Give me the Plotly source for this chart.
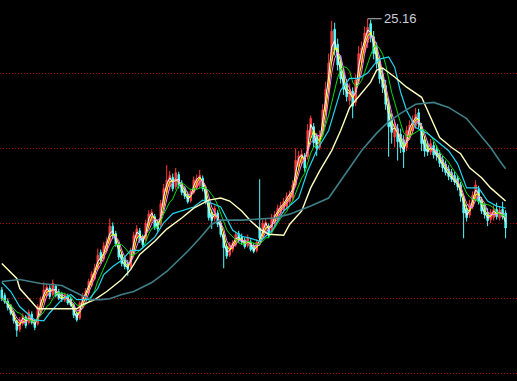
import plotly.graph_objects as go
import pandas as pd

# ---- data ----
opens = [10.70,10.40,10.10,9.85,9.50,9.05,8.60,8.90,9.25,8.95,9.40,9.05,8.90,9.70,10.10,10.40,10.80,10.45,10.90,10.60,
         10.50,10.15,10.40,10.20,9.90,9.45,9.20,9.95,10.25,10.55,10.95,11.30,11.85,12.70,12.35,12.80,13.25,14.10,13.70,13.10,
         12.60,12.30,12.15,11.95,12.85,13.45,13.85,13.50,13.40,14.15,14.40,14.60,14.30,14.20,15.20,15.90,16.20,16.70,16.20,16.85,
         16.40,16.05,15.80,15.45,15.90,16.20,16.25,16.65,16.05,15.35,14.85,14.50,14.80,14.25,13.65,13.00,12.55,12.85,13.10,13.70,
         13.55,13.35,13.05,13.25,13.05,12.80,14.00,13.55,13.90,14.10,13.80,14.25,14.50,14.80,14.95,15.15,15.40,15.60,16.30,17.30,
         17.45,17.85,17.80,19.00,19.40,18.90,18.30,19.00,20.20,21.40,22.90,24.60,23.80,22.90,22.20,21.70,20.80,21.30,20.70,21.90,
         22.80,23.50,23.90,24.90,24.20,23.60,22.90,22.20,21.60,20.60,19.80,18.85,19.30,19.00,18.70,18.30,18.90,19.20,19.45,20.15,
         19.40,18.70,18.40,18.05,18.40,18.20,17.95,17.65,17.40,17.15,16.95,16.80,16.65,16.30,15.60,15.05,14.70,15.15,15.60,16.05,
         15.45,15.10,14.85,14.45,14.55,15.00,14.55,15.00,14.80]
highs = [10.85,10.55,10.25,9.95,9.60,9.10,9.25,9.45,9.35,9.65,9.55,9.15,9.95,10.35,11.10,11.00,10.95,11.25,11.00,10.75,
         10.60,10.55,10.50,10.35,10.00,9.55,10.10,10.55,10.80,11.30,11.70,12.10,12.90,12.85,13.25,13.50,14.50,14.30,13.85,13.25,
         12.75,12.45,12.30,12.95,13.80,14.15,14.00,13.65,14.45,14.95,15.00,14.75,14.45,15.50,16.35,17.35,17.05,16.90,17.20,17.00,
         16.55,16.20,15.95,16.10,16.75,16.85,17.10,16.80,16.20,15.50,15.00,15.20,14.95,14.40,13.80,13.15,13.25,13.35,13.80,13.85,
         13.70,13.50,13.65,13.40,13.20,13.40,16.60,14.45,14.50,14.25,14.75,14.90,15.25,15.40,15.60,15.90,16.00,16.55,18.25,18.10,
         18.20,18.00,19.55,20.00,19.60,19.05,19.20,20.60,21.80,23.30,25.05,24.95,24.10,23.20,22.50,21.95,21.70,21.50,22.20,23.70,
         23.95,24.75,25.16,25.10,24.50,23.90,23.20,22.50,21.90,20.90,20.10,19.80,19.55,19.30,18.95,19.45,19.75,20.00,20.40,20.35,
         19.60,18.90,18.65,18.75,18.60,18.40,18.15,17.85,17.60,17.35,17.15,17.00,16.80,16.45,15.75,15.25,15.50,15.95,16.55,16.25,
         15.65,15.30,15.05,15.00,15.20,15.35,15.15,15.40,14.95]
lows = [10.10,9.95,9.60,9.35,8.90,8.20,8.45,8.80,8.65,8.85,8.85,8.55,8.80,9.60,10.00,10.30,10.20,10.35,10.30,10.15,
        10.05,10.05,9.90,9.80,9.20,9.00,9.10,9.85,10.15,10.45,10.85,11.20,11.75,12.10,12.20,12.65,13.10,13.40,13.00,12.30,
        11.95,11.80,11.45,11.85,12.70,13.30,13.20,12.95,13.30,14.00,14.25,13.90,13.80,14.05,15.05,15.75,16.00,15.95,16.05,16.10,
        15.75,15.55,15.30,15.35,15.80,16.05,16.10,15.95,15.25,14.40,13.95,14.35,14.05,13.50,11.85,12.35,12.45,12.70,13.00,13.20,
        13.10,12.90,12.95,12.75,12.65,12.70,13.30,13.45,13.80,13.45,13.70,14.10,14.40,14.65,14.80,15.00,15.25,15.45,16.15,17.10,
        17.30,17.00,17.65,18.80,18.30,17.85,18.15,18.90,20.00,21.20,22.70,23.20,22.40,21.70,21.10,20.75,20.55,19.85,20.50,21.70,
        22.50,23.30,23.60,23.90,23.00,22.50,21.70,21.20,20.30,17.80,18.50,18.30,17.60,18.00,17.20,18.10,18.70,19.00,19.30,19.30,
        18.10,17.80,17.85,17.90,17.70,17.60,17.25,17.00,16.80,16.55,16.45,16.30,16.00,15.40,13.45,14.35,14.55,15.00,15.45,15.25,
        14.75,14.50,14.10,14.25,14.40,14.45,14.40,14.45,13.45]
closes = [10.25,10.05,9.75,9.45,9.05,8.55,9.10,9.30,8.80,9.50,8.95,8.70,9.80,10.20,10.70,10.85,10.35,11.05,10.40,10.25,
          10.20,10.45,10.00,9.90,9.35,9.10,10.00,10.40,10.65,11.15,11.55,11.85,12.55,12.25,13.05,13.30,14.10,13.60,13.15,12.45,
          12.10,11.95,11.80,12.80,13.60,13.95,13.35,13.10,14.25,14.75,14.85,14.05,13.95,15.30,16.10,16.55,16.80,16.10,16.95,16.25,
          15.90,15.70,15.40,15.95,16.55,16.65,16.80,16.10,15.40,14.55,14.40,15.05,14.20,13.65,12.95,12.50,13.10,13.20,13.65,13.35,
          13.25,13.00,13.50,12.85,12.75,13.25,13.45,14.25,14.30,13.60,14.55,14.70,15.05,15.20,15.40,15.70,15.80,16.30,17.60,17.85,
          17.95,17.20,19.20,19.85,18.55,18.25,18.95,20.30,21.40,22.80,24.50,23.50,22.70,21.95,21.40,21.00,21.40,20.50,21.90,23.30,
          23.60,24.40,24.70,24.20,23.30,22.80,21.95,21.50,20.60,19.40,19.10,19.55,18.60,18.30,18.05,19.20,19.50,19.75,20.05,19.55,
          18.50,18.10,18.05,18.50,17.90,17.85,17.45,17.20,16.95,16.75,16.60,16.45,16.20,15.70,14.80,14.55,15.30,15.75,16.30,15.40,
          14.90,14.70,14.40,14.85,14.95,14.60,14.95,14.60,14.00]

# long moving averages (candle index, value)
ma_mid_idx = [0,3,6,11,14,16,20,23,25,29,32,34,37,40,43,46,51,54,57,61,64,67,69,73,75,77,80,83,86,90,94,99,102,105,109,111,
              113,116,119,122,124,126,129,131,133,135,138,142,145,149,152,155,159,162,165,168]
ma_mid_val = [11.10,10.61,9.80,9.10,9.05,9.48,10.18,10.45,10.18,10.18,10.77,11.52,11.95,12.28,12.81,12.81,13.51,14.28,14.77,14.95,
              15.12,15.49,15.39,15.12,14.47,13.88,13.56,13.45,13.29,13.83,14.91,15.60,17.05,18.13,19.20,20.27,21.35,21.98,21.98,22.26,
              22.69,23.01,23.12,22.58,21.24,20.27,19.36,19.04,18.66,18.12,17.42,16.14,16.14,15.44,15.17,15.06]
ma120_idx = [0,5,6,9,11,12,16,25,27,31,35,40,43,46,51,55,60,64,69,73,76,80,83,86,89,94,96,100,103,106,110,113,116,120,123,125,
             127,131,135,140,143,146,150,153,156,160,163,166,168]
ma120_val = [12.11,11.31,10.77,10.23,9.91,9.69,9.69,9.69,9.91,10.18,10.61,11.25,11.79,12.59,13.29,13.94,14.53,15.06,15.49,15.60,
             15.44,14.91,14.37,13.94,13.67,13.61,14.20,14.91,16.14,17.05,18.13,19.20,20.43,21.19,21.78,22.42,22.53,22.05,21.51,20.97,
             19.90,18.82,18.29,17.96,17.21,16.68,16.14,15.71,15.44]
ma250_idx = [0,6,13,20,26,30,33,36,40,44,50,55,62,66,70,73,80,86,91,96,103,109,113,116,120,125,129,133,138,144,149,155,159,
             163,166,168]
ma250_val = [11.15,11.25,11.04,10.93,10.45,10.18,10.18,10.23,10.45,10.61,11.09,11.68,12.76,13.45,14.20,14.42,14.42,14.47,14.53,
             14.74,15.17,15.60,16.51,17.21,18.13,19.06,19.68,20.11,20.60,20.70,20.43,19.84,19.04,18.29,17.59,17.16]

short_ma_periods = [2, 3, 4, 7]
short_ma_colors = ["#FFFFFF", "#FFFF00", "#FF80FF", "#00E000"]

# ---- figure ----
n = len(closes)
idx = list(range(n))
s = pd.Series(closes)

fig = go.Figure()
fig.add_trace(go.Candlestick(
    x=idx, open=opens, high=highs, low=lows, close=closes,
    increasing=dict(line=dict(color="#FF3C3C", width=1), fillcolor="#FF3C3C"),
    decreasing=dict(line=dict(color="#54FCFC", width=1), fillcolor="#54FCFC"),
    whiskerwidth=0, showlegend=False, hoverinfo="skip"))

for p, c in zip(short_ma_periods, short_ma_colors):
    fig.add_trace(go.Scatter(x=idx, y=s.rolling(p, min_periods=1).mean(), mode="lines",
                             line=dict(color=c, width=1), showlegend=False, hoverinfo="skip"))

fig.add_trace(go.Scatter(x=ma_mid_idx, y=ma_mid_val, mode="lines", line=dict(color="#1FD6F0", width=1.2),
                         showlegend=False, hoverinfo="skip"))
fig.add_trace(go.Scatter(x=ma120_idx, y=ma120_val, mode="lines", line=dict(color="#FFFFC0", width=1.4),
                         showlegend=False, hoverinfo="skip"))
fig.add_trace(go.Scatter(x=ma250_idx, y=ma250_val, mode="lines", line=dict(color="#3F7F88", width=1.6),
                         showlegend=False, hoverinfo="skip"))

peak_i = max(range(n), key=lambda i: highs[i])
fig.add_annotation(x=peak_i, y=highs[peak_i], text=f"{highs[peak_i]:.2f}", showarrow=True,
                   arrowhead=0, arrowcolor="#B8C0C8", arrowwidth=1, ax=14, ay=0, xanchor="left",
                   font=dict(family="Liberation Sans", size=13, color="#C8D0D8"))

fig.update_layout(
    width=517, height=381, margin=dict(l=0, r=0, t=0, b=0),
    paper_bgcolor="#000000", plot_bgcolor="#000000",
    xaxis=dict(range=[-0.6, 171.8], showgrid=False, zeroline=False, showticklabels=False,
               rangeslider=dict(visible=False), fixedrange=True),
    yaxis=dict(range=[5.84, 26.16], tick0=2.24, dtick=4, showgrid=True, gridcolor="#B00000",
               griddash="1px,2px", gridwidth=1, zeroline=False, showticklabels=False, fixedrange=True),
)
fig.write_html("out.html")
